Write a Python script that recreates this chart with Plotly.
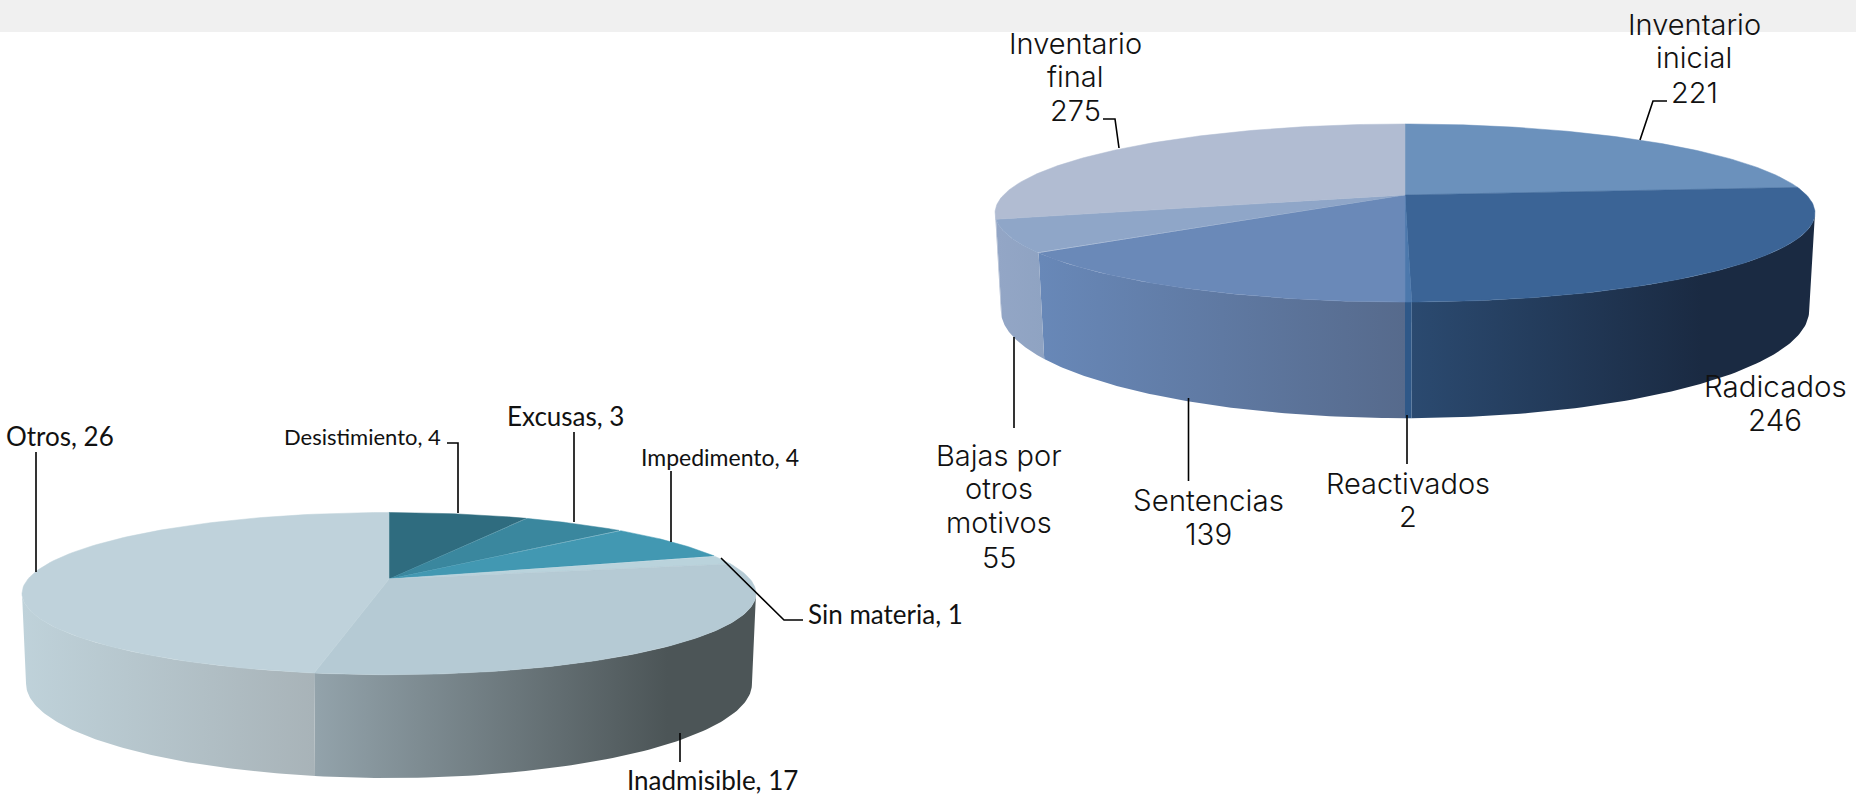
import numpy as np
import plotly.graph_objects as go

# ---- data ----
right_names = ["Inventario inicial", "Radicados", "Reactivados", "Sentencias", "Bajas por otros motivos", "Inventario final"]
right_values = [221, 246, 2, 139, 55, 275]
left_names = ["Desistimiento", "Excusas", "Impedimento", "Sin materia", "Inadmisible", "Otros"]
left_values = [4, 3, 4, 1, 17, 26]

# ---- styles ----
right_top = ["#6B91BC", "#3B6496", "#4C78AC", "#6A89B8", "#8FA6C8", "#B1BCD2"]
right_side = [("#2A4A72", "#2A4A72", 1), ("#2B4A70", "#1A2A42", 0.72), ("#2F5888", "#2F5888", 1),
              ("#6888B8", "#566A8C", 1), ("#93A6C6", "#8FA3C2", 1), ("#A8B6CE", "#A8B6CE", 1)]
left_top = ["#2F6C7F", "#3A879E", "#4298B2", "#BAD3DC", "#B5CAD4", "#BFD2DB"]
left_side = [("#4E5759", "#4E5759", 1), ("#4E5759", "#4E5759", 1), ("#4E5759", "#4E5759", 1),
             ("#4E5759", "#4E5759", 1), ("#93A3AB", "#4C5557", 0.8), ("#BFD2DA", "#A8B3B8", 1)]

# plane: cx, cy, R, H, k  (perspective view of a circle)
right_geom = dict(top=(1405, 195, 401.5, 85.4, 0.2024), bottom=(1405, 288.8, 396, 103.5, 0.2))
left_geom = dict(top=(389, 579, 361, 78.5, 0.18), bottom=(389, 667, 357, 91, 0.18))

# text, centre x, y of each line, size, family
labels = [
    (["Inventario", "inicial", "221"], 1694, [24, 57, 92], 29, "Inter"),
    (["Inventario", "final", "275"], 1075, [43, 76, 110], 29, "Inter"),
    (["Radicados", "246"], 1775, [386, 420], 29.5, "Inter"),
    (["Reactivados", "2"], 1408, [483, 516], 29, "Inter"),
    (["Sentencias", "139"], 1208, [500, 534], 29.5, "Inter"),
    (["Bajas por", "otros", "motivos", "55"], 999, [455, 488, 522, 557], 29, "Inter"),
    (["Otros, 26"], 60, [436], 26, "Lato"),
    (["Desistimiento, 4"], 362, [436], 22, "Lato"),
    (["Excusas, 3"], 565, [416], 26, "Lato"),
    (["Impedimento, 4"], 720, [457], 23, "Lato"),
    (["Sin materia, 1"], 885, [614], 26, "Lato"),
    (["Inadmisible, 17"], 712, [780], 26, "Lato"),
]
leaders = [
    [(36, 452), (36, 572)],
    [(447, 443), (458, 443), (458, 513)],
    [(574, 432), (574, 522)],
    [(671, 471), (671, 542)],
    [(721, 558), (784, 620), (803, 620)],
    [(680, 733), (680, 762)],
    [(1667, 101), (1653, 101), (1640, 140)],
    [(1103, 119), (1115, 119), (1119, 148)],
    [(1407, 415), (1407, 464)],
    [(1188.5, 398), (1188.5, 481)],
    [(1014, 337), (1014, 428)],
]


def project(theta, plane):
    cx, cy, R, H, k = plane
    u, v = np.sin(theta), np.cos(theta)
    d = 1 + k * v
    return cx + R * u / d, cy - H * v / d


def add_pie(fig, names, values, geom, tops, sides):
    edges = np.concatenate([[0], np.cumsum(values)]) / np.sum(values) * 2 * np.pi
    k = geom["top"][4]
    vis_a, vis_b = np.arccos(-k), 2 * np.pi - np.arccos(-k)
    # side walls
    for i, name in enumerate(names):
        a, b = max(edges[i], vis_a), min(edges[i + 1], vis_b)
        if b <= a:
            continue
        th = np.linspace(a, b, 80)
        xt, yt = project(th, geom["top"])
        xb, yb = project(th, geom["bottom"])
        xs = np.concatenate([xt, xb[::-1]])
        ys = np.concatenate([yt, yb[::-1]])
        c0, c1, stop = sides[i]
        scale = [[0, c0], [stop, c1]] + ([[1, c1]] if stop < 1 else [])
        fig.add_trace(go.Scatter(
            x=xs, y=ys, mode="lines", fill="toself", name=name, hoverinfo="skip",
            line=dict(width=0, color=c0),
            fillgradient=dict(type="horizontal", start=float(xs.min()), stop=float(xs.max()),
                              colorscale=scale),
        ))
    # top faces
    apex = (geom["top"][0], geom["top"][1])
    for i, name in enumerate(names):
        th = np.linspace(edges[i], edges[i + 1], 120)
        x, y = project(th, geom["top"])
        fig.add_trace(go.Scatter(
            x=np.concatenate([[apex[0]], x, [apex[0]]]),
            y=np.concatenate([[apex[1]], y, [apex[1]]]),
            mode="lines", fill="toself", fillcolor=tops[i], name=f"{name}: {values[i]}",
            line=dict(width=0.5, color=tops[i]), hoverinfo="name",
        ))


fig = go.Figure()
add_pie(fig, right_names, right_values, right_geom, right_top, right_side)
add_pie(fig, left_names, left_values, left_geom, left_top, left_side)

for pts in leaders:
    fig.add_trace(go.Scatter(x=[p[0] for p in pts], y=[p[1] for p in pts], mode="lines",
                             line=dict(color="#000000", width=1.6), hoverinfo="skip"))

annotations = [dict(x=x, y=yy, text=line, showarrow=False, xref="x", yref="y",
                    xanchor="center", yanchor="middle",
                    font=dict(family=f, size=s, color="#111111", weight=300 if f == "Inter" else 400))
               for lines, x, ys, s, f in labels for line, yy in zip(lines, ys)]

fig.update_layout(
    width=1856, height=795, margin=dict(l=0, r=0, t=0, b=0),
    paper_bgcolor="white", plot_bgcolor="white", showlegend=False,
    xaxis=dict(range=[0, 1856], visible=False, fixedrange=True),
    yaxis=dict(range=[795, 0], visible=False, fixedrange=True),
    annotations=annotations,
    shapes=[dict(type="rect", xref="x", yref="y", x0=0, x1=1856, y0=0, y1=32,
                 fillcolor="#F0F0F0", line_width=0, layer="below")],
)
fig.write_html("out.html", config={"displayModeBar": False},
               post_script="document.body.style.margin='0';document.body.style.overflow='hidden';")
